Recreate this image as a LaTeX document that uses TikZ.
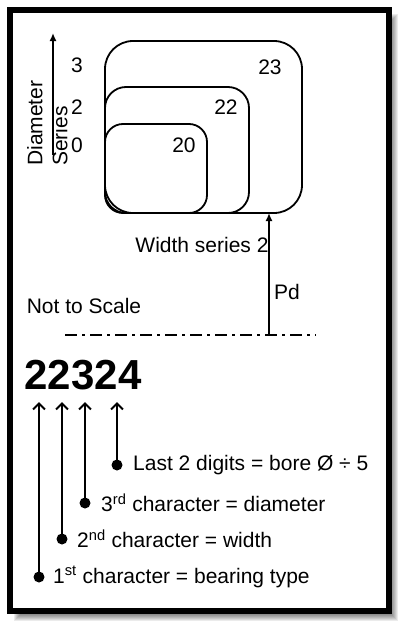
\documentclass[tikz,border=0pt]{standalone}
\usepackage{fontspec}
\setmainfont{Liberation Sans}
\usetikzlibrary{arrows.meta,positioning}

\tikzset{
  serbox/.style={draw, line width=1.8pt, inner sep=0pt, outer sep=0pt},
  pointer/.style={line width=2pt, -{Straight Barb[length=6pt,width=12pt,line width=2pt]}},
  dotmark/.style={circle, fill, inner sep=0pt, minimum size=11pt},
  lbl/.style={anchor=west, inner sep=0pt}
}

\begin{document}
\begin{tikzpicture}[x=1pt, y=-1pt, font=\fontsize{21}{24}\selectfont]
		\useasboundingbox (0,0) rectangle (408,632);
		\fill[white] (0,0) rectangle (408,632);
		
		% Shadow and frame
		\foreach \d in {0,...,8}
			\fill[black, opacity=0.08] (14+\d,14+\d) rectangle (398-\d,621-\d);
		\fill[white] (10,10) rectangle (389,611);
		\draw[line width=5.5pt] (10,10) rectangle (389,611);
		
		% Series boxes
		\node[serbox, rounded corners=28pt, minimum width=197pt, minimum height=172pt] (s23) at (203.5,127) {};
		\node[serbox, rounded corners=21pt, minimum width=144pt, minimum height=126pt] (s22) at (177,150) {};
		\node[serbox, rounded corners=18pt, minimum width=102pt, minimum height=89pt] (s20) at (156,168.5) {};
		\node (n23) at (270,67) {23};
		\node (n22) at (226,107) {22};
		\node (n20) at (184,145) {20};
		
		% Diameter series axis
		\coordinate (dbot) at (53,155);
		\coordinate (dtop) at (53,33);
		\draw[line width=1.6pt, -{Latex[length=8pt,width=7pt]}] (dbot) -- (dtop);
		\node[rotate=90, align=left, anchor=north west, inner sep=0pt] (dser) at (27,166) {Diameter\\[1pt]Series};
		\node (d3) at (77,65) {3};
		\node (d2) at (77,107) {2};
		\node (d0) at (77,145) {0};
		
		% Width series and pitch diameter
		\node (wser) at (202,245) {Width series 2};
		\node (scale) at (84,306) {Not to Scale};
		\draw[line width=1.6pt, dash pattern=on 12pt off 5pt on 3pt off 5pt] (65,335) -- (316,335);
		\coordinate (pdfoot) at (269,335);
		\draw[line width=1.6pt, -{Latex[length=8pt,width=7pt]}] (pdfoot) -- (pdfoot |- s23.south);
		\node (pd) at (287,292) {Pd};
		
		% Bearing number
		\node[font=\fontsize{42}{46}\selectfont\bfseries] (num) at (83,375) {22324};
		
		% Character meanings
		\node[dotmark] (c1) at (39,577) {};
		\node[dotmark] (c2) at (62,539) {};
		\node[dotmark] (c3) at (85,503) {};
		\node[dotmark] (c4) at (117,465) {};
		\foreach \i/\x in {1/39,2/62,3/85,4/117}
			\draw[pointer] (c\i.center) -- (\x,402);
		\node[lbl] (t1) at (53,577) {1\textsuperscript{st} character = bearing type};
		\node[lbl] (t2) at (77,539) {2\textsuperscript{nd} character = width};
		\node[lbl] (t3) at (101,503) {3\textsuperscript{rd} character = diameter};
		\node[lbl] (t4) at (133,465) {Last 2 digits = bore Ø ÷ 5};
		
	\end{tikzpicture}
\end{document}
